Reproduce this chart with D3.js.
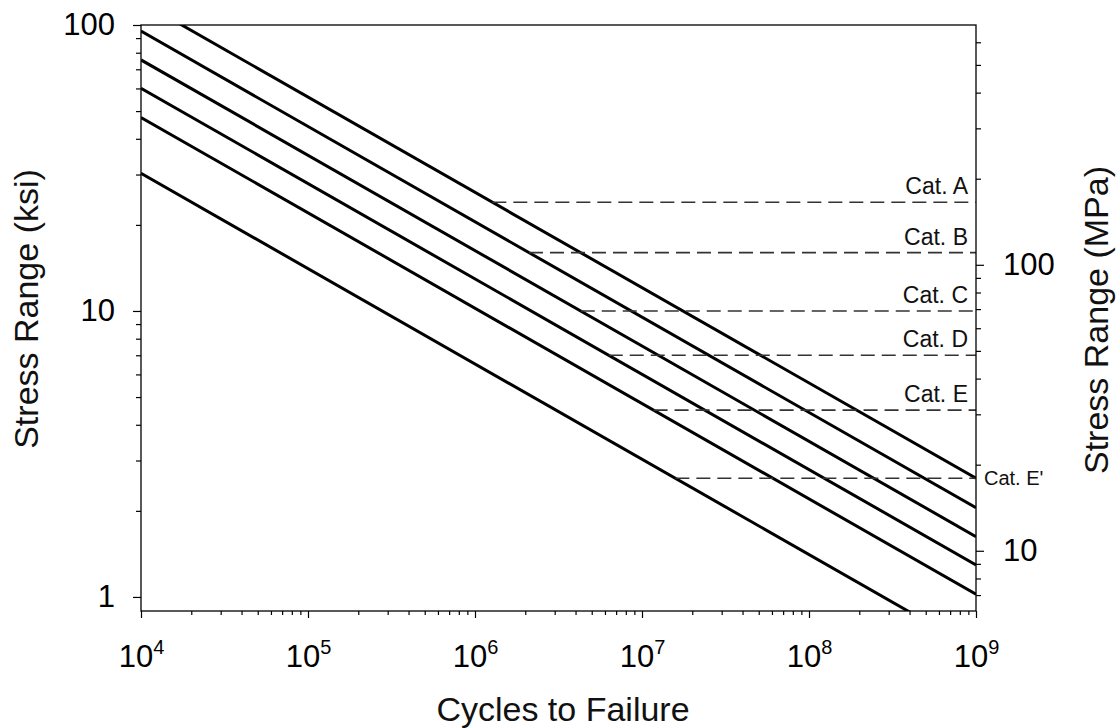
<!DOCTYPE html>
<html>
<head>
<meta charset="utf-8">
<script src="https://cdn.jsdelivr.net/npm/d3@7"></script>
<style>
  body { margin: 0; background: #fff; }
  svg { display: block; font-family: "Liberation Sans", Arial, sans-serif; }
</style>
</head>
<body>
<svg id="chart" width="1119" height="728"></svg>
<script>
// ---- data ----
const categories = ["Cat. A", "Cat. B", "Cat. C", "Cat. D", "Cat. E", "Cat. E'"];
const thresholds = [24, 16, 10, 7, 4.5, 2.6];          // ksi (dashed lines)
const stressAt1e4 = [120.6, 95.2, 75.5, 60.1, 47.5, 30.3]; // ksi at N = 1e4
const stressAt1e9 = [2.60, 2.05, 1.625, 1.294, 1.022, 0.653]; // ksi at N = 1e9
const cycleEnds = [1e4, 1e9];
const xTickExps = [4, 5, 6, 7, 8, 9];
const yMajorTicks = [1, 10, 100];
const mpaMajorTicks = [10, 100];
const ksiToMpa = 6.895;

const svg = d3.select("#chart");
const L = 141, R = 976, T = 25, B = 611;

const x = d3.scaleLog().domain([1e4, 1e9]).range([L, R]);
const y = d3.scaleLog().domain([0.893, 100]).range([B, T]);
const yM = d3.scaleLog().domain([0.893 * ksiToMpa, 100 * ksiToMpa]).range([B, T]);

// minor tick values
const xMinor = [];
for (let e = 4; e < 9; e++) for (let m = 2; m <= 9; m++) xMinor.push(m * Math.pow(10, e));
const yMinor = [];
for (const d of [1, 10]) for (let m = 2; m <= 9; m++) yMinor.push(m * d);
const mMinor = [];
for (const d of [1, 10, 100]) for (let m = 1; m <= 9; m++) {
  const v = m * d;
  if (v >= 7 && v <= 600 && !mpaMajorTicks.includes(v)) mMinor.push(v);
}

const font = 'font-family: "Liberation Sans", Arial, sans-serif';

// clip
svg.append("defs").append("clipPath").attr("id", "clip")
  .append("rect").attr("x", L).attr("y", T).attr("width", R - L).attr("height", B - T);

// S-N lines
const lineGen = d3.line().x(d => x(d[0])).y(d => y(d[1]));
const gLines = svg.append("g").attr("clip-path", "url(#clip)");
categories.forEach((c, i) => {
  const pts = [[cycleEnds[0], stressAt1e4[i]], [cycleEnds[1], stressAt1e9[i]]];
  gLines.append("path").attr("d", lineGen(pts))
    .attr("fill", "none").attr("stroke", "#000").attr("stroke-width", 3);
});

// dashed threshold lines, from the intersection with the line to the right axis
categories.forEach((c, i) => {
  const l0 = Math.log10(stressAt1e4[i]), l1 = Math.log10(stressAt1e9[i]);
  const t = (Math.log10(thresholds[i]) - l0) / (l1 - l0);
  const nStart = Math.pow(10, 4 + 5 * t);
  svg.append("line")
    .attr("x1", x(nStart)).attr("x2", x(1e9))
    .attr("y1", y(thresholds[i])).attr("y2", y(thresholds[i]))
    .attr("stroke", "#333").attr("stroke-width", 1.6)
    .attr("stroke-dasharray", "14,7");
  if (i < categories.length - 1) {
    svg.append("text").attr("x", x(1e9) - 8).attr("y", y(thresholds[i]) - 8)
      .attr("text-anchor", "end").attr("font-size", 23).attr("fill", "#111").text(c);
  } else {
    svg.append("text").attr("x", x(1e9) + 8).attr("y", y(thresholds[i]))
      .attr("dy", "0.35em").attr("text-anchor", "start").attr("font-size", 20)
      .attr("fill", "#111").text(c);
  }
});

// axes
function styleAxis(g) {
  g.select(".domain").remove();
  g.selectAll(".tick line").attr("stroke", "#000").attr("stroke-width", 1.2);
}
// bottom
svg.append("g").attr("transform", `translate(0,${B})`)
  .call(d3.axisBottom(x).tickValues(xMinor).tickSize(4).tickFormat("")).call(styleAxis);
const gx = svg.append("g").attr("transform", `translate(0,${B})`)
  .call(d3.axisBottom(x).tickValues(xTickExps.map(e => Math.pow(10, e))).tickSize(7).tickFormat(""))
  .call(styleAxis);
gx.selectAll(".tick").each(function(d, i) {
  const t = d3.select(this).append("text").attr("y", 56).attr("text-anchor", "middle")
    .attr("fill", "#000").attr("font-size", 31);
  t.append("tspan").text("10");
  t.append("tspan").attr("dy", -13).attr("font-size", 20).text(xTickExps[i]);
});
// left
svg.append("g").attr("transform", `translate(${L},0)`)
  .call(d3.axisLeft(y).tickValues(yMinor).tickSize(5).tickFormat("")).call(styleAxis);
const gy = svg.append("g").attr("transform", `translate(${L},0)`)
  .call(d3.axisLeft(y).tickValues(yMajorTicks).tickSize(8).tickPadding(18).tickFormat(d3.format("d")))
  .call(styleAxis);
gy.selectAll(".tick text").attr("font-size", 31).attr("fill", "#000").attr("style", font);
// right (MPa)
svg.append("g").attr("transform", `translate(${R},0)`)
  .call(d3.axisRight(yM).tickValues(mMinor).tickSize(5).tickFormat("")).call(styleAxis);
const gr = svg.append("g").attr("transform", `translate(${R},0)`)
  .call(d3.axisRight(yM).tickValues(mpaMajorTicks).tickSize(8).tickPadding(19).tickFormat(d3.format("d")))
  .call(styleAxis);
gr.selectAll(".tick text").attr("font-size", 31).attr("fill", "#000").attr("style", font);

// frame
svg.append("rect").attr("x", L).attr("y", T).attr("width", R - L).attr("height", B - T)
  .attr("fill", "none").attr("stroke", "#000").attr("stroke-width", 1.3);

// titles
svg.append("text").attr("transform", `translate(38,309) rotate(-90)`)
  .attr("text-anchor", "middle").attr("font-size", 34).attr("fill", "#111")
  .text("Stress Range (ksi)");
svg.append("text").attr("transform", `translate(1108,320) rotate(-90)`)
  .attr("text-anchor", "middle").attr("font-size", 34).attr("fill", "#111")
  .text("Stress Range (MPa)");
svg.append("text").attr("x", 563).attr("y", 721)
  .attr("text-anchor", "middle").attr("font-size", 34).attr("fill", "#111")
  .text("Cycles to Failure");
</script>
</body>
</html>
